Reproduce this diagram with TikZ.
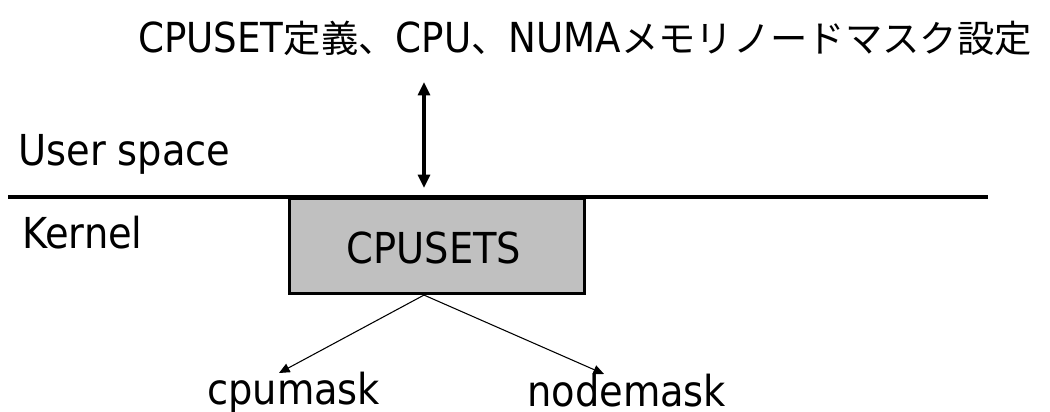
\documentclass[tikz,border=0pt]{standalone}
\usepackage{fontspec}
\setmainfont{DejaVu Sans Condensed}
\newfontfamily\jpfont{Noto Sans CJK JP}
\usetikzlibrary{arrows.meta}

\definecolor{boxgray}{HTML}{C0C0C0}
\newcommand{\jp}[1]{{\jpfont\fontsize{28}{28}\selectfont #1}}

\tikzset{
  lbl/.style={inner sep=0pt, anchor=base west, font=\fontsize{32}{32}\selectfont},
  headline/.style={inner sep=0pt, anchor=base west, font=\fontsize{31}{31}\selectfont},
  kbox/.style={draw=black, line width=2.3pt, fill=boxgray, inner sep=0pt},
  thick rule/.style={line width=2.3pt},
  iface/.style={line width=2.3pt, {Triangle[width=9pt,length=10pt]}-{Triangle[width=9pt,length=10pt]}},
  thin link/.style={line width=0.8pt, -{Triangle[width=7pt,length=8pt]}}
}

\begin{document}
\begin{tikzpicture}[x=0.75pt,y=-0.75pt]
  \useasboundingbox (0,0) rectangle (1050,411);

  % heading: configuration from user space
  \node[headline] (title) at (138,52)
    {CPUSET\jp{定義、}CPU\jp{、}NUMA\jp{メモリノードマスク設定}};

  % user / kernel boundary
  \coordinate (ruleL) at (8,197);
  \coordinate (ruleR) at (988,197);
  \draw[thick rule] (ruleL) -- (ruleR);

  \node[lbl] (user) at (18,165) {User space};
  \node[lbl] (kernel) at (22,248) {Kernel};

  % the cpuset subsystem
  \node[kbox, minimum width=295*0.75pt, minimum height=95*0.75pt, anchor=north west] (cpusets) at (288,197) {};
  \node[lbl, anchor=base] (cpusetslbl) at (434,263) {CPUSETS};

  % interface between user space and kernel
  \coordinate (ifaceTop) at (424,82);
  \coordinate (ifaceBot) at (424,188);
  \draw[iface] (ifaceTop) -- (ifaceBot);

  % masks derived from the cpuset
  \node[lbl] (cpumask) at (207,404) {cpumask};
  \node[lbl] (nodemask) at (527,406) {nodemask};
  \coordinate (fork) at (cpusets.south -| ifaceTop);
  \coordinate (cpuTip) at (279,373);
  \coordinate (nodeTip) at (604,374);
  \draw[thin link] (fork) -- (cpuTip);
  \draw[thin link] (fork) -- (nodeTip);
\end{tikzpicture}
\end{document}
